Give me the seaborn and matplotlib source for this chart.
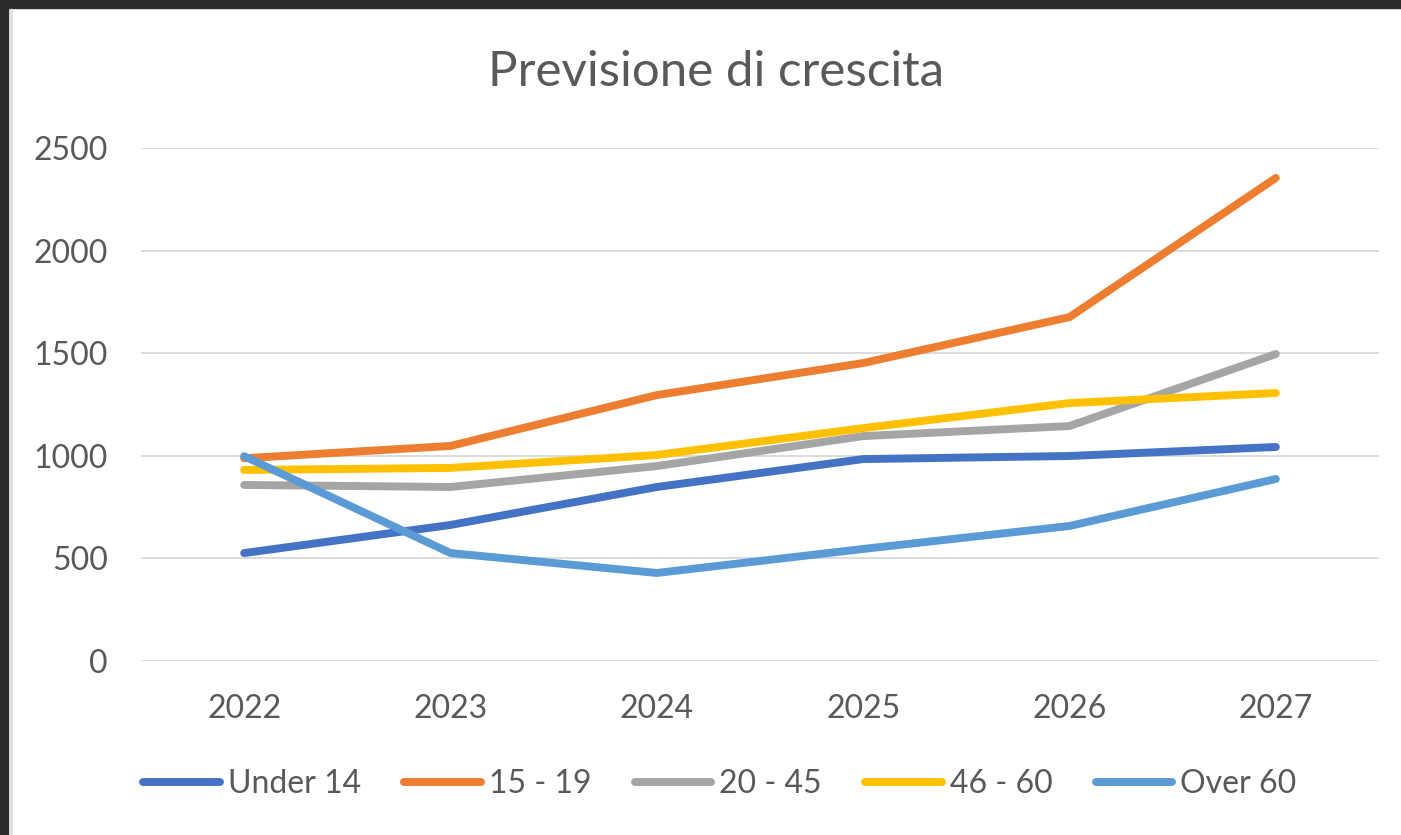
import matplotlib
matplotlib.use("Agg")
import matplotlib.pyplot as plt
import seaborn as sns
import pandas as pd
from matplotlib.patches import Rectangle

# data
years = [2022, 2023, 2024, 2025, 2026, 2027]
under_14 = [526, 663, 848, 984, 999, 1043]
age_15_19 = [988, 1048, 1296, 1452, 1676, 2354]
age_20_45 = [858, 848, 950, 1096, 1145, 1496]
age_46_60 = [931, 941, 1004, 1135, 1257, 1306]
over_60 = [998, 526, 429, 546, 658, 887]

series_names = ["Under 14", "15 - 19", "20 - 45", "46 - 60", "Over 60"]
series_values = [under_14, age_15_19, age_20_45, age_46_60, over_60]
colors = ["#4472C4", "#ED7D31", "#A5A5A5", "#FFC000", "#5B9BD5"]

df = pd.DataFrame(
    [(y, name, v) for name, vals in zip(series_names, series_values) for y, v in zip(years, vals)],
    columns=["Anno", "Gruppo", "Valore"],
)

sns.set_theme(style="white")
plt.rcParams["font.family"] = ["Lato", "DejaVu Sans"]
text_color = "#595959"

fig = plt.figure(figsize=(14.01, 8.35), dpi=100)
ax = fig.add_axes([141 / 1401, 1 - 661 / 835, (1379 - 141) / 1401, (661 - 148) / 835])

sns.lineplot(data=df, x="Anno", y="Valore", hue="Gruppo", hue_order=series_names,
             palette=colors, linewidth=5.7, ax=ax, legend=False,
             solid_capstyle="round")

ax.set_xlim(years[0] - 0.5, years[-1] + 0.5)
ax.set_ylim(0, 2500)
ax.set_xticks(years)
ax.set_yticks([0, 500, 1000, 1500, 2000, 2500])
ax.set_xlabel("")
ax.set_ylabel("")
ax.yaxis.grid(True, color="#d9d9d9", linewidth=1.3)
ax.xaxis.grid(False)
ax.set_axisbelow(True)
for s in ax.spines.values():
    s.set_visible(False)
ax.tick_params(axis="both", length=0, labelsize=23, labelcolor=text_color)
ax.tick_params(axis="y", pad=24)
ax.tick_params(axis="x", pad=24)

fig.text(716 / 1401, 1 - 72 / 835, "Previsione di crescita", ha="center", va="center",
         fontsize=35.5, color=text_color)

handles = [plt.Line2D([], [], color=c, linewidth=5.7, solid_capstyle="round") for c in colors]
fig.legend(handles, series_names, loc="center", bbox_to_anchor=(720 / 1401, 1 - 784 / 835),
           ncol=5, frameon=False, fontsize=23, handlelength=2.4, handletextpad=0.25,
           columnspacing=1.35, labelcolor=text_color)

# dark screenshot border
fig.patches.append(Rectangle((0, 1 - 8 / 835), 1, 8 / 835, transform=fig.transFigure,
                             color="#2b2b2b", zorder=10))
fig.patches.append(Rectangle((0, 0), 8 / 1401, 1, transform=fig.transFigure,
                             color="#2b2b2b", zorder=10))
fig.patches.append(Rectangle((10 / 1401, 0), 2 / 1401, 1 - 9 / 835, transform=fig.transFigure,
                             color="#e0e0e0", zorder=10))

fig.savefig("out.png", dpi=100)
